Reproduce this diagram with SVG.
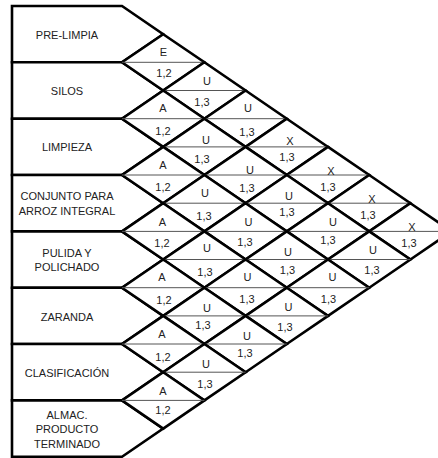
<svg xmlns="http://www.w3.org/2000/svg" width="438" height="458" viewBox="0 0 438 458">
<style>
.box{fill:#fff;stroke:#000;stroke-width:2.6}
.dia{fill:#fff;stroke:#000;stroke-width:2.6}
.mid{stroke:#555;stroke-width:1}
text{font-family:"Liberation Sans",Arial,sans-serif;font-size:11px;fill:#222;text-anchor:middle}
</style>
<rect width="438" height="458" fill="#fff"/>
<g id="nodes">
<g id="n0"><polygon class="box" points="12,6 122,6 163.2,34.2 122,62.3 12,62.3"/><text x="67" y="39">PRE-LIMPIA</text></g>
<g id="n1"><polygon class="box" points="12,62.3 122,62.3 163.2,90.5 122,118.7 12,118.7"/><text x="67" y="94.7">SILOS</text></g>
<g id="n2"><polygon class="box" points="12,118.7 122,118.7 163.2,146.9 122,175 12,175"/><text x="67" y="151">LIMPIEZA</text></g>
<g id="n3"><polygon class="box" points="12,175 122,175 163.2,203.2 122,231.4 12,231.4"/><text x="67" y="199.7">CONJUNTO PARA</text><text x="67" y="215">ARROZ INTEGRAL</text></g>
<g id="n4"><polygon class="box" points="12,231.4 122,231.4 163.2,259.5 122,287.7 12,287.7"/><text x="67" y="256.7">PULIDA Y</text><text x="67" y="271.3">POLICHADO</text></g>
<g id="n5"><polygon class="box" points="12,287.7 122,287.7 163.2,315.9 122,344 12,344"/><text x="67" y="320.7">ZARANDA</text></g>
<g id="n6"><polygon class="box" points="12,344 122,344 163.2,372.2 122,400.4 12,400.4"/><text x="67" y="376.7">CLASIFICACIÓN</text></g>
<g id="n7"><polygon class="box" points="12,400.4 122,400.4 163.2,428.6 122,456.7 12,456.7"/><text x="67" y="419">ALMAC.</text><text x="67" y="433">PRODUCTO</text><text x="67" y="448">TERMINADO</text></g>
</g>
<g id="relations">
<g id="r01"><polygon class="dia" points="163.2,34.2 204.4,62.3 163.2,90.5 122,62.3"/><line class="mid" x1="122" y1="62.3" x2="204.4" y2="62.3"/><text x="163.3" y="55.7">E</text><text x="164" y="77.3">1,2</text></g>
<g id="r02"><polygon class="dia" points="204.4,62.3 245.6,90.5 204.4,118.7 163.2,90.5"/><line class="mid" x1="163.2" y1="90.5" x2="245.6" y2="90.5"/><text x="207" y="85">U</text><text x="202" y="105.5">1,3</text></g>
<g id="r12"><polygon class="dia" points="163.2,90.5 204.4,118.7 163.2,146.9 122,118.7"/><line class="mid" x1="122" y1="118.7" x2="204.4" y2="118.7"/><text x="163" y="112">A</text><text x="163" y="134.5">1,2</text></g>
<g id="r03"><polygon class="dia" points="245.6,90.5 286.8,118.7 245.6,146.9 204.4,118.7"/><line class="mid" x1="204.4" y1="118.7" x2="286.8" y2="118.7"/><text x="248" y="112">U</text><text x="247" y="136">1,3</text></g>
<g id="r13"><polygon class="dia" points="204.4,118.7 245.6,146.9 204.4,175 163.2,146.9"/><line class="mid" x1="163.2" y1="146.9" x2="245.6" y2="146.9"/><text x="206" y="144">U</text><text x="202" y="163">1,3</text></g>
<g id="r04"><polygon class="dia" points="286.8,118.7 328,146.9 286.8,175 245.6,146.9"/><line class="mid" x1="245.6" y1="146.9" x2="328" y2="146.9"/><text x="290" y="145">X</text><text x="287" y="161">1,3</text></g>
<g id="r23"><polygon class="dia" points="163.2,146.9 204.4,175 163.2,203.2 122,175"/><line class="mid" x1="122" y1="175" x2="204.4" y2="175"/><text x="163" y="169">A</text><text x="163" y="191">1,2</text></g>
<g id="r14"><polygon class="dia" points="245.6,146.9 286.8,175 245.6,203.2 204.4,175"/><line class="mid" x1="204.4" y1="175" x2="286.8" y2="175"/><text x="250" y="174">U</text><text x="247" y="192">1,3</text></g>
<g id="r05"><polygon class="dia" points="328,146.9 369.2,175 328,203.2 286.8,175"/><line class="mid" x1="286.8" y1="175" x2="369.2" y2="175"/><text x="331" y="175">X</text><text x="328" y="191">1,3</text></g>
<g id="r24"><polygon class="dia" points="204.4,175 245.6,203.2 204.4,231.4 163.2,203.2"/><line class="mid" x1="163.2" y1="203.2" x2="245.6" y2="203.2"/><text x="205" y="196.5">U</text><text x="204" y="219.5">1,3</text></g>
<g id="r15"><polygon class="dia" points="286.8,175 328,203.2 286.8,231.4 245.6,203.2"/><line class="mid" x1="245.6" y1="203.2" x2="328" y2="203.2"/><text x="289" y="199.5">U</text><text x="287" y="216">1,3</text></g>
<g id="r06"><polygon class="dia" points="369.2,175 410.4,203.2 369.2,231.4 328,203.2"/><line class="mid" x1="328" y1="203.2" x2="410.4" y2="203.2"/><text x="372" y="203">X</text><text x="368" y="219">1,3</text></g>
<g id="r34"><polygon class="dia" points="163.2,203.2 204.4,231.4 163.2,259.5 122,231.4"/><line class="mid" x1="122" y1="231.4" x2="204.4" y2="231.4"/><text x="162.5" y="226">A</text><text x="162" y="247">1,2</text></g>
<g id="r25"><polygon class="dia" points="245.6,203.2 286.8,231.4 245.6,259.5 204.4,231.4"/><line class="mid" x1="204.4" y1="231.4" x2="286.8" y2="231.4"/><text x="248.5" y="226">U</text><text x="245" y="245.5">1,3</text></g>
<g id="r16"><polygon class="dia" points="328,203.2 369.2,231.4 328,259.5 286.8,231.4"/><line class="mid" x1="286.8" y1="231.4" x2="369.2" y2="231.4"/><text x="333" y="226">U</text><text x="328" y="244">1,3</text></g>
<g id="r07"><polygon class="dia" points="410.4,203.2 451.6,231.4 410.4,259.5 369.2,231.4"/><line class="mid" x1="369.2" y1="231.4" x2="451.6" y2="231.4"/><text x="412" y="231">X</text><text x="409" y="247">1,3</text></g>
<g id="r35"><polygon class="dia" points="204.4,231.4 245.6,259.5 204.4,287.7 163.2,259.5"/><line class="mid" x1="163.2" y1="259.5" x2="245.6" y2="259.5"/><text x="207" y="252">U</text><text x="205" y="275.5">1,3</text></g>
<g id="r26"><polygon class="dia" points="286.8,231.4 328,259.5 286.8,287.7 245.6,259.5"/><line class="mid" x1="245.6" y1="259.5" x2="328" y2="259.5"/><text x="288" y="255.5">U</text><text x="287.5" y="273.5">1,3</text></g>
<g id="r17"><polygon class="dia" points="369.2,231.4 410.4,259.5 369.2,287.7 328,259.5"/><line class="mid" x1="328" y1="259.5" x2="410.4" y2="259.5"/><text x="373" y="254">U</text><text x="372" y="274">1,3</text></g>
<g id="r45"><polygon class="dia" points="163.2,259.5 204.4,287.7 163.2,315.9 122,287.7"/><line class="mid" x1="122" y1="287.7" x2="204.4" y2="287.7"/><text x="162" y="281">A</text><text x="164" y="303.5">1,2</text></g>
<g id="r36"><polygon class="dia" points="245.6,259.5 286.8,287.7 245.6,315.9 204.4,287.7"/><line class="mid" x1="204.4" y1="287.7" x2="286.8" y2="287.7"/><text x="247.5" y="280.5">U</text><text x="247" y="302.5">1,3</text></g>
<g id="r27"><polygon class="dia" points="328,259.5 369.2,287.7 328,315.9 286.8,287.7"/><line class="mid" x1="286.8" y1="287.7" x2="369.2" y2="287.7"/><text x="332.5" y="281">U</text><text x="328.5" y="302.5">1,3</text></g>
<g id="r46"><polygon class="dia" points="204.4,287.7 245.6,315.9 204.4,344 163.2,315.9"/><line class="mid" x1="163.2" y1="315.9" x2="245.6" y2="315.9"/><text x="207" y="311.5">U</text><text x="203" y="329">1,3</text></g>
<g id="r37"><polygon class="dia" points="286.8,287.7 328,315.9 286.8,344 245.6,315.9"/><line class="mid" x1="245.6" y1="315.9" x2="328" y2="315.9"/><text x="288.5" y="311">U</text><text x="285" y="331">1,3</text></g>
<g id="r56"><polygon class="dia" points="163.2,315.9 204.4,344 163.2,372.2 122,344"/><line class="mid" x1="122" y1="344" x2="204.4" y2="344"/><text x="162" y="338">A</text><text x="163" y="361">1,2</text></g>
<g id="r47"><polygon class="dia" points="245.6,315.9 286.8,344 245.6,372.2 204.4,344"/><line class="mid" x1="204.4" y1="344" x2="286.8" y2="344"/><text x="247" y="340">U</text><text x="245" y="357">1,3</text></g>
<g id="r57"><polygon class="dia" points="204.4,344 245.6,372.2 204.4,400.4 163.2,372.2"/><line class="mid" x1="163.2" y1="372.2" x2="245.6" y2="372.2"/><text x="206" y="368">U</text><text x="205" y="388">1,3</text></g>
<g id="r67"><polygon class="dia" points="163.2,372.2 204.4,400.4 163.2,428.6 122,400.4"/><line class="mid" x1="122" y1="400.4" x2="204.4" y2="400.4"/><text x="163" y="395">A</text><text x="163" y="414">1,2</text></g>
</g>
</svg>
